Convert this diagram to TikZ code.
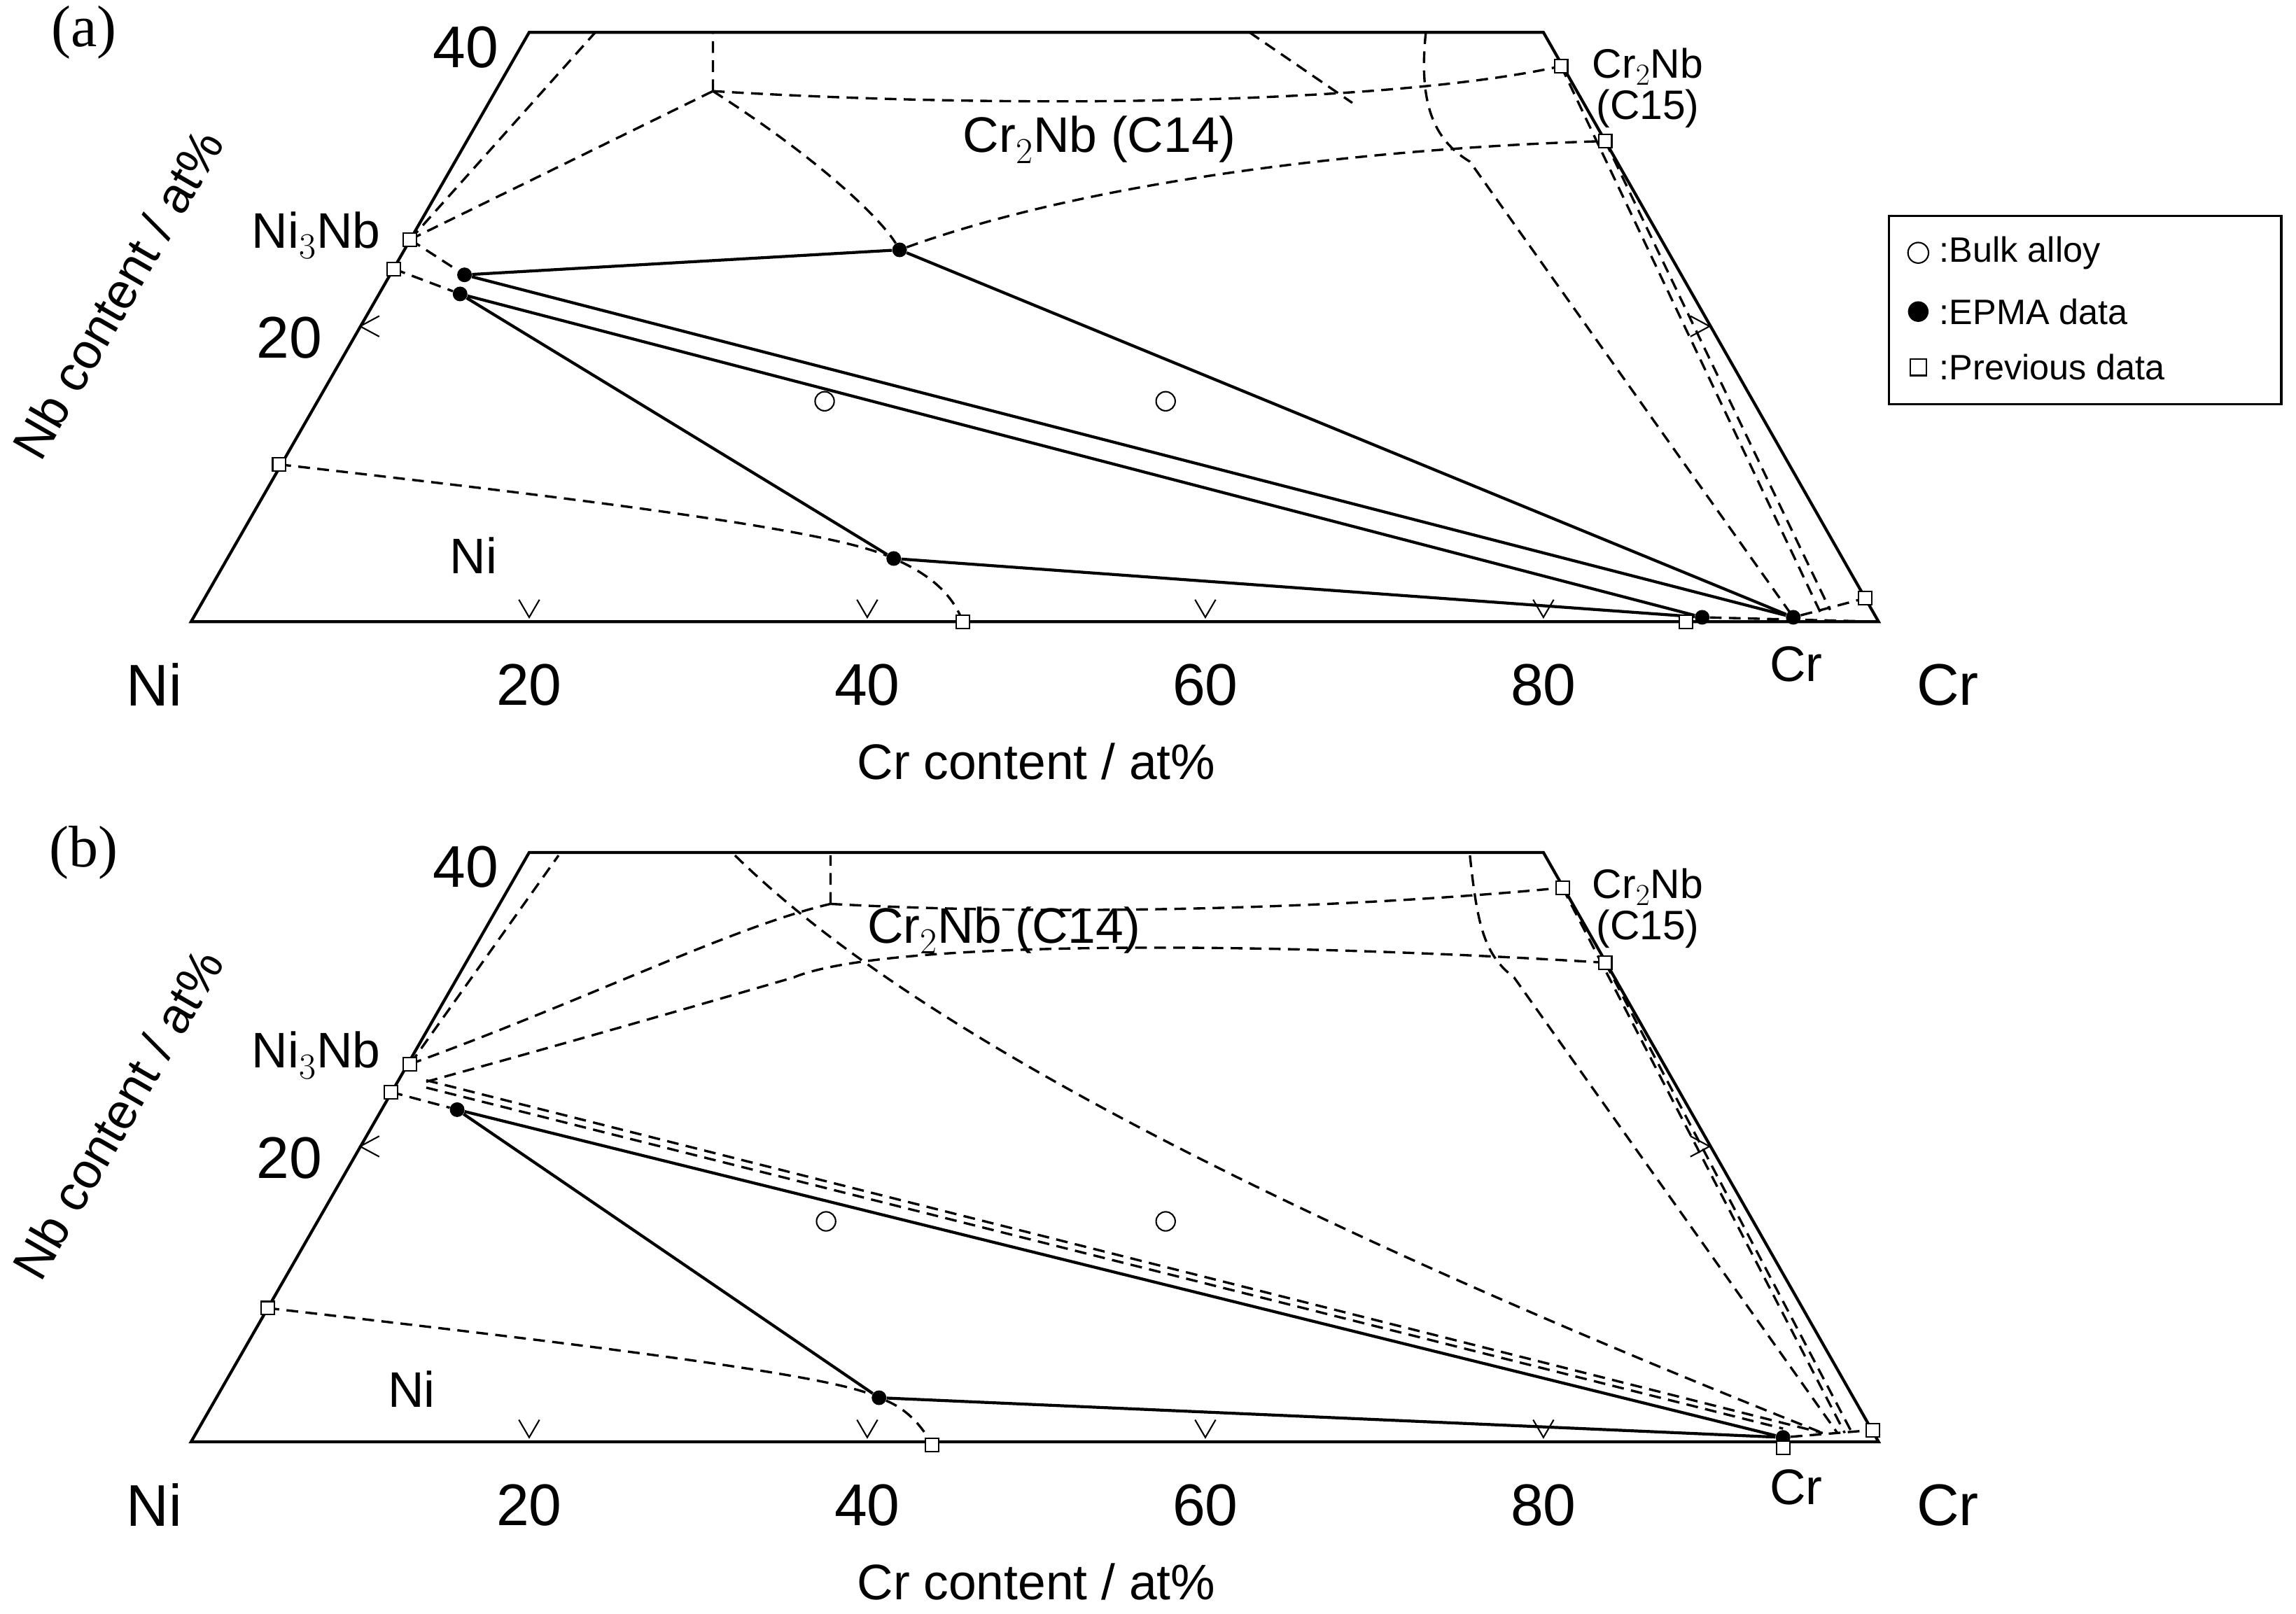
\documentclass[tikz,border=0pt]{standalone}
\usepackage{fontspec}
\setmainfont{Liberation Sans}
\newfontfamily\myserif{Liberation Serif}
\begin{document}
\begin{tikzpicture}[x=1pt,y=-1pt,
 sol/.style={line width=2pt},
 das/.style={line width=1.6pt,dash pattern=on 8pt off 5pt},
 dot/.style={circle,fill=black,inner sep=0pt,minimum size=10pt},
 oc/.style={circle,draw,line width=1pt,inner sep=0pt,minimum size=13pt},
 sq/.style={rectangle,draw,fill=white,line width=1pt,inner sep=0pt,minimum size=9pt},
 big/.style={font=\fontsize{40}{40}\selectfont},
 mid/.style={font=\fontsize{34}{34}\selectfont},
 sm/.style={font=\fontsize{28}{28}\selectfont},
 leg/.style={font=\fontsize{24}{24}\selectfont,anchor=west}]
\useasboundingbox (0,0) rectangle (1562,1098);
\foreach \o/\lab in {0/a,558/b}{
\begin{scope}[yshift=-\o pt]
\draw[sol] (130,423) -- (360,22) -- (1050,22) -- (1278,423) -- cycle;
\foreach \x in {360,590,820,1050}{\draw[line width=1pt] (\x-7,408)--(\x,420)--(\x+7,408);}
\draw[line width=1pt] (258,215)--(245,222)--(258,229);
\draw[line width=1pt] (1150,215)--(1163,222)--(1150,229);
\node[font=\myserif\fontsize{40}{40}\selectfont] (lab\lab) at (57,22) {(\lab)};
\node[big] (t40\lab) at (317,32) {40};
\node[big] (t20\lab) at (197,230) {20};
\node[big] (ni\lab) at (105,466) {Ni};
\node[big] (cr\lab) at (1325,466) {Cr};
\foreach \x/\t in {360/20,590/40,820/60,1050/80}{\node[big] (b\t\lab) at (\x,466) {\t};}
\node[mid] (xl\lab) at (705,518) {Cr content / at\%};
\node[mid,rotate=60] (yl\lab) at (80,200) {Nb content / at\%};
\node[mid] (n3\lab) at (215,160) {Ni$_3$Nb};
\node[sm,align=center] (c15\lab) at (1121,60) {Cr$_2$Nb\\(C15)};
\end{scope}}
% panel a
\node[mid] (c14a) at (748,95) {Cr$_2$Nb (C14)};
\node[mid] (nia) at (322,378) {Ni};
\node[mid] (cria) at (1222,452) {Cr};
\node[dot] (A1) at (316,187) {};
\node[dot] (A2) at (313,200) {};
\node[dot] (B) at (612,170) {};
\node[dot] (C) at (608,380) {};
\node[dot] (D) at (1158,420) {};
\node[dot] (E) at (1220,420) {};
\draw[sol] (A1)--(B)--(E) (A1)--(E) (A2)--(D) (A2)--(C)--(D);
\node[oc] (o1) at (561,273) {}; \node[oc] (o2) at (793,273) {};
\coordinate (p1) at (485,62);
\draw[das] (279,163)--(405,22) (279,163)--(p1) (p1)--(485,22);
\draw[das] (p1) .. controls (700,75) and (950,70) .. (1062,45);
\draw[das] (p1) .. controls (560,110) and (600,150) .. (B);
\draw[das] (B) .. controls (750,120) and (950,100) .. (1092,96);
\draw[das] (850,22) -- (920,70);
\draw[das] (970,22) .. controls (965,70) and (975,95) .. (1000,110) -- (1220,420);
\draw[das] (1062,45)--(1240,420) (1092,96)--(1245,415);
\draw[das] (268,183)--(A2) (279,163)--(A1);
\draw[das] (190,316) .. controls (400,340) and (560,360) .. (C) .. controls (640,395) and (650,410) .. (655,423);
\draw[das] (E)--(1269,407) (D)--(1278,423);
\foreach \p in {(279,163),(268,183),(190,316),(655,423),(1147,423),(1269,407),(1062,45),(1092,96)}{\node[sq] at \p {};}
% panel b
\node[mid] (c14b) at (683,633) {Cr$_2$Nb (C14)};
\node[mid] (nib) at (280,945) {Ni};
\node[mid] (crib) at (1222,1012) {Cr};
\node[dot] (bA) at (311,755) {};
\node[dot] (bC) at (598,951) {};
\node[dot] (bE) at (1213,978) {};
\draw[sol] (bA)--(bE) (bA)--(bC)--(bE);
\node[oc] (o3) at (562,831) {}; \node[oc] (o4) at (793,831) {};
\coordinate (q1) at (565,615);
\draw[das] (279,724)--(380,582) (279,724) .. controls (400,680) and (500,630) .. (q1) (q1)--(565,582);
\draw[das] (q1) .. controls (750,625) and (950,615) .. (1063,604);
\draw[das] (1092,655) .. controls (850,640) and (600,640) .. (540,665) .. controls (420,700) and (330,725) .. (290,736);
\draw[das] (500,582) .. controls (600,680) and (800,800) .. (1240,975);
\draw[das] (290,740) -- (1213,972);
\draw[das] (290,735) -- (1240,975);
\draw[das] (1063,604)--(1255,975) (1092,655)--(1260,975);
\draw[das] (1000,582) .. controls (1005,630) and (1010,650) .. (1030,665) -- (1250,975);
\draw[das] (266,743)--(bA);
\draw[das] (182,890) .. controls (400,915) and (560,935) .. (bC) .. controls (620,960) and (630,975) .. (634,983);
\draw[das] (bE)--(1274,973);
\foreach \p in {(279,724),(266,743),(182,890),(634,983),(1213,985),(1274,973),(1063,604),(1092,655)}{\node[sq] at \p {};}
% legend
\draw[line width=1.5pt] (1285,147) rectangle (1552,275);
\node[oc,minimum size=14pt] (lo) at (1305,172) {};
\node[leg] (lt1) at (1316,172) {:Bulk alloy};
\node[dot,minimum size=14pt] (ld) at (1305,212) {};
\node[leg] (lt2) at (1316,212) {:EPMA data};
\node[sq,minimum size=11pt] (ls) at (1305,250) {};
\node[leg] (lt3) at (1316,250) {:Previous data};
\end{tikzpicture}
\end{document}
